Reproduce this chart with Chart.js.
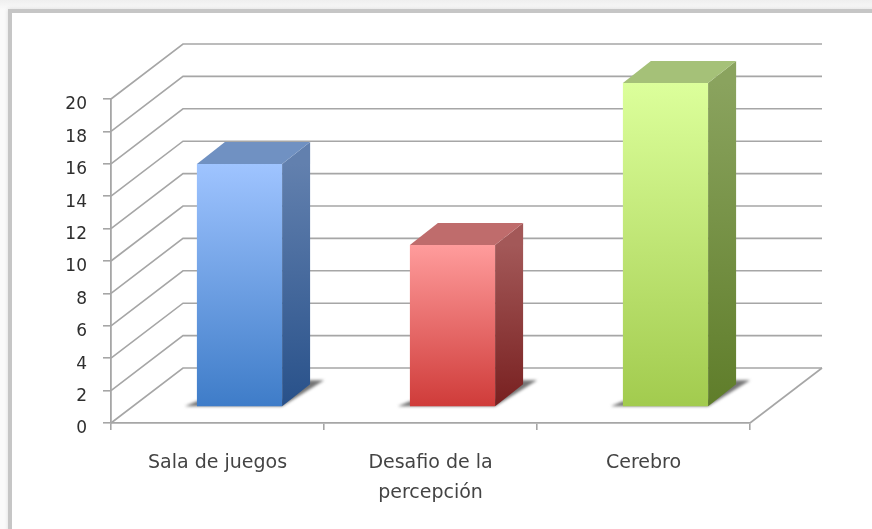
<!DOCTYPE html>
<html>
<head>
  <meta charset="utf-8">
  <title>Juegos</title>
  <script src="https://cdn.jsdelivr.net/npm/chart.js"></script>
  <style>
    html, body { margin: 0; padding: 0; background: #fff; overflow: hidden; }
    #page { position: relative; width: 872px; height: 529px; background: linear-gradient(#efefef, #fafafa 10px); }
    #frame {
      position: absolute; left: 8px; top: 9px; right: -5px; bottom: -5px;
      background: #fff; border-top: 4px solid #c6c6c6; border-left: 4px solid #c6c6c6;
      box-shadow: 0 0 4px rgba(0,0,0,0.12);
    }
    canvas { position: absolute; left: 0; top: 0; filter: blur(0.7px); }
  </style>
</head>
<body>
  <div id="page">
    <div id="frame"></div>
    <canvas id="chart" width="872" height="529"></canvas>
  </div>

  <script>
    const categories = [['Sala de juegos'], ['Desafio de la', 'percepción'], ['Cerebro']];
    const values = [15, 10, 20];
    const frontTop = ['#9fc4ff', '#ff9c9c', '#dcff9b'];
    const frontBottom = ['#3e7cc8', '#cf3b39', '#a2cb4e'];
    const topFaces = ['#7091c2', '#bf6c6c', '#a5c178'];
    const sideTop = ['#6280ae', '#a35858', '#8aa35e'];
    const sideBottom = ['#28518a', '#782020', '#5f7d2a'];

    const gridColor = '#a6a6a6';
    const wall = { dx: 72, dy: -55 };     // depth of the whole plot box
    const front = { dx: 22, dy: -16 };    // where the bars start in that depth
    const depth = { dx: 28, dy: -22 };    // depth of a bar

    function poly(ctx, pts, fill) {
      ctx.beginPath();
      pts.forEach((p, i) => i ? ctx.lineTo(p[0], p[1]) : ctx.moveTo(p[0], p[1]));
      ctx.closePath();
      ctx.fillStyle = fill;
      ctx.fill();
    }

    // back wall and floor lines, taken from the value scale
    const walls = {
      id: 'walls',
      beforeDatasetsDraw(chart) {
        const { ctx, chartArea: a, scales: { y } } = chart;
        ctx.save();
        ctx.strokeStyle = gridColor;
        ctx.lineWidth = 1.6;
        y.ticks.forEach(t => {
          const py = y.getPixelForValue(t.value);
          ctx.beginPath();
          ctx.moveTo(a.left, py);
          ctx.lineTo(a.left + wall.dx, py + wall.dy);
          ctx.lineTo(a.right + wall.dx, py + wall.dy);
          ctx.stroke();
        });
        ctx.beginPath();
        ctx.moveTo(a.right, a.bottom);
        ctx.lineTo(a.right + wall.dx, a.bottom + wall.dy);
        ctx.stroke();
        ctx.restore();
      }
    };

    // moves the bars back into the box and adds shadow, top and side faces
    const box3d = {
      id: 'box3d',
      beforeDatasetDraw(chart, args) {
        const ctx = chart.ctx;
        ctx.save();
        ctx.translate(front.dx, front.dy);
        args.meta.data.forEach(bar => {
          const l = bar.x - bar.width / 2, r = bar.x + bar.width / 2, b = bar.base;
          ctx.save();
          ctx.filter = 'blur(1.6px)';
          poly(ctx, [[l - 12, b], [r, b], [r + 42, b - 26], [r + 26, b - 26], [r, b - 6], [l, b - 5]], 'rgba(70,70,70,0.75)');
          ctx.restore();
        });
      },
      afterDatasetDraw(chart, args) {
        const ctx = chart.ctx;
        args.meta.data.forEach((bar, i) => {
          const l = bar.x - bar.width / 2, r = bar.x + bar.width / 2, t = bar.y, b = bar.base;
          const side = ctx.createLinearGradient(0, t, 0, b);
          side.addColorStop(0, sideTop[i]);
          side.addColorStop(1, sideBottom[i]);
          poly(ctx, [[r, t], [r + depth.dx, t + depth.dy], [r + depth.dx, b + depth.dy], [r, b]], side);
          poly(ctx, [[l, t], [l + depth.dx, t + depth.dy], [r + depth.dx, t + depth.dy], [r, t]], topFaces[i]);
        });
        ctx.restore();
      }
    };

    new Chart(document.getElementById('chart'), {
      type: 'bar',
      data: {
        labels: categories,
        datasets: [{
          data: values,
          clip: false,
          categoryPercentage: 0.4,
          barPercentage: 1,
          backgroundColor(c) {
            const y = c.chart.scales.y;
            if (!c.chart.chartArea || !y || c.dataIndex === undefined) return '#999';
            const g = c.chart.ctx.createLinearGradient(0, y.getPixelForValue(values[c.dataIndex]), 0, y.getPixelForValue(0));
            g.addColorStop(0, frontTop[c.dataIndex]);
            g.addColorStop(1, frontBottom[c.dataIndex]);
            return g;
          },
        }],
      },
      plugins: [walls, box3d],
      options: {
        responsive: false,
        animation: false,
        layout: { padding: { top: 99, right: 122, left: 0, bottom: 0 } },
        plugins: { legend: { display: false }, title: { display: false }, tooltip: { enabled: false } },
        scales: {
          x: {
            afterFit(s) { s.height = 106; },
            border: { color: gridColor, width: 1.8 },
            grid: { drawOnChartArea: false, color: gridColor, lineWidth: 1.6, tickLength: 7, offset: true },
            ticks: { color: '#444', padding: 18, maxRotation: 0, autoSkip: false, font: { family: 'DejaVu Sans', size: 19, lineHeight: 1.58 } },
          },
          y: {
            min: 0,
            max: 20,
            afterFit(s) { s.width = 111; },
            border: { color: gridColor, width: 1.8 },
            grid: { drawOnChartArea: false, color: gridColor, lineWidth: 1.6, tickLength: 8 },
            ticks: {
              stepSize: 2,
              color: '#2e2e2e',
              padding: 16,
              font: { family: 'DejaVu Sans', size: 17, lineHeight: '12px' },
              // empty first line drops the number a few px below its tick, as in the original
              callback: v => ['', String(v)],
            },
          },
        },
      },
    });
  </script>
</body>
</html>
